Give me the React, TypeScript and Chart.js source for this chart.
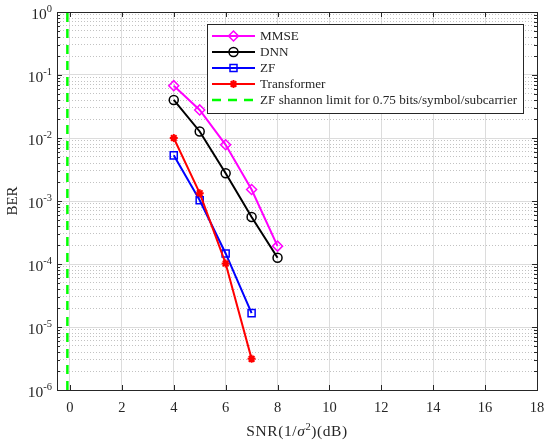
import React, { useEffect, useRef } from 'react';
import { Chart, registerables } from 'chart.js';

Chart.register(...registerables);

// ---- data ----
const snrValues = [4, 5, 6, 7, 8];
const mmseBer = [0.0677, 0.0279, 0.0078, 0.00152, 0.000192];
const dnnBer = [0.0402, 0.0127, 0.00275, 0.000558, 0.000126];
const zfSnr = [4, 5, 6, 7];
const zfBer = [0.0053, 0.00103, 0.000147, 0.0000166];
const transformerSnr = [4, 5, 6, 7];
const transformerBer = [0.01, 0.00133, 0.000102, 0.00000312];
const shannonSnr = [-0.1, -0.1];
const shannonBer = [1e-6, 1];
const xTickValues = [0, 2, 4, 6, 8, 10, 12, 14, 16, 18];
const yDecadeExponents = [-6, -5, -4, -3, -2, -1, 0];
const seriesNames = ['MMSE', 'DNN', 'ZF', 'Transformer', 'ZF shannon limit for 0.75 bits/symbol/subcarrier'];
const seriesColors = ['#ff00ff', '#000000', '#0000ff', '#ff0000', '#00ff00'];
const seriesMarkers = ['rectRot', 'circle', 'rect', 'star', 'none'];
const yTitle = 'BER';

const FONT = '"Liberation Serif", "Times New Roman", serif';
const AX = '#262626';

function isMajor(v: number) {
  const l = Math.log10(v);
  return Math.abs(l - Math.round(l)) < 1e-6;
}

const yTickValues: number[] = [];
yDecadeExponents.forEach((e) => {
  if (e === 0) {
    yTickValues.push(1);
  } else {
    for (let m = 1; m <= 9; m++) yTickValues.push(m * Math.pow(10, e));
  }
});

function toPoints(xs: number[], ys: number[]) {
  return xs.map((x, i) => ({ x, y: ys[i] }));
}

function drawMarker(ctx: CanvasRenderingContext2D, kind: string, x: number, y: number, color: string) {
  ctx.save();
  ctx.strokeStyle = color;
  ctx.lineWidth = 1.5;
  ctx.beginPath();
  if (kind === 'rectRot') {
    const r = 5;
    ctx.moveTo(x, y - r);
    ctx.lineTo(x + r, y);
    ctx.lineTo(x, y + r);
    ctx.lineTo(x - r, y);
    ctx.closePath();
  } else if (kind === 'circle') {
    ctx.arc(x, y, 4.5, 0, Math.PI * 2);
  } else if (kind === 'rect') {
    ctx.rect(x - 3.5, y - 3.5, 7, 7);
  } else if (kind === 'star') {
    ctx.lineWidth = 2;
    const r = 4;
    for (let k = 0; k < 4; k++) {
      const a = (k * Math.PI) / 4;
      ctx.moveTo(x - r * Math.cos(a), y - r * Math.sin(a));
      ctx.lineTo(x + r * Math.cos(a), y + r * Math.sin(a));
    }
  }
  ctx.stroke();
  ctx.restore();
}

const decorPlugin = {
  id: 'decor',
  afterDraw(chart: any) {
    const { ctx, chartArea: ca, scales } = chart;
    const xs = scales.x;
    const ys = scales.y;
    ctx.save();

    // inward ticks
    ctx.strokeStyle = AX;
    ctx.lineWidth = 1;
    ctx.beginPath();
    yTickValues.forEach((v) => {
      const py = Math.round(ys.getPixelForValue(v)) + 0.5;
      const len = isMajor(v) ? 5 : 3;
      ctx.moveTo(ca.left, py);
      ctx.lineTo(ca.left + len, py);
      ctx.moveTo(ca.right, py);
      ctx.lineTo(ca.right - len, py);
    });
    xTickValues.forEach((v) => {
      const px = Math.round(xs.getPixelForValue(v)) + 0.5;
      ctx.moveTo(px, ca.bottom);
      ctx.lineTo(px, ca.bottom - 5);
      ctx.moveTo(px, ca.top);
      ctx.lineTo(px, ca.top + 5);
    });
    ctx.stroke();

    // box
    ctx.strokeRect(Math.round(ca.left) + 0.5, Math.round(ca.top) + 0.5, Math.round(ca.right - ca.left), Math.round(ca.bottom - ca.top));

    // x tick labels
    ctx.fillStyle = AX;
    ctx.font = `14.5px ${FONT}`;
    ctx.textAlign = 'center';
    ctx.textBaseline = 'middle';
    xTickValues.forEach((v) => {
      ctx.fillText(String(v), xs.getPixelForValue(v), ca.bottom + 18);
    });

    // y tick labels 10^e
    ctx.textAlign = 'left';
    yDecadeExponents.forEach((e) => {
      const py = ys.getPixelForValue(Math.pow(10, e));
      ctx.font = `15.5px ${FONT}`;
      const bw = ctx.measureText('10').width;
      ctx.font = `10.5px ${FONT}`;
      const exp = String(e);
      const ew = ctx.measureText(exp).width;
      const x0 = ca.left - 5 - ew - bw;
      ctx.font = `15.5px ${FONT}`;
      ctx.fillText('10', x0, py + 3);
      ctx.font = `10.5px ${FONT}`;
      ctx.fillText(exp, x0 + bw, py - 3);
    });

    // y title
    ctx.save();
    ctx.font = `15px ${FONT}`;
    ctx.textAlign = 'center';
    ctx.textBaseline = 'middle';
    ctx.translate(13, (ca.top + ca.bottom) / 2);
    ctx.rotate(-Math.PI / 2);
    ctx.fillText(yTitle, 0, 0);
    ctx.restore();

    // x title: SNR(1/σ²)(dB)
    const parts = [
      { t: 'SNR(1/', f: `15.5px ${FONT}`, dy: 0 },
      { t: 'σ', f: `italic 15.5px ${FONT}`, dy: 0 },
      { t: '2', f: `10.5px ${FONT}`, dy: -6 },
      { t: ')(dB)', f: `15.5px ${FONT}`, dy: 0 },
    ];
    try {
      (ctx as any).letterSpacing = '0.6px';
    } catch (err) {
      /* ignore */
    }
    let total = 0;
    parts.forEach((p) => {
      ctx.font = p.f;
      total += ctx.measureText(p.t).width;
    });
    let cx = (ca.left + ca.right) / 2 - total / 2;
    const by = 436;
    ctx.textAlign = 'left';
    ctx.textBaseline = 'alphabetic';
    parts.forEach((p) => {
      ctx.font = p.f;
      ctx.fillText(p.t, cx, by + p.dy);
      cx += ctx.measureText(p.t).width;
    });
    try {
      (ctx as any).letterSpacing = '0px';
    } catch (err) {
      /* ignore */
    }

    // legend
    const lx = ca.right - 330;
    const ly = ca.top + 12;
    const lw = 316;
    const lh = 89;
    ctx.fillStyle = '#ffffff';
    ctx.fillRect(lx, ly, lw, lh);
    ctx.strokeStyle = AX;
    ctx.lineWidth = 1;
    ctx.strokeRect(Math.round(lx) + 0.5, Math.round(ly) + 0.5, lw, lh);
    ctx.font = `13.2px ${FONT}`;
    ctx.textBaseline = 'middle';
    ctx.textAlign = 'left';
    seriesNames.forEach((name, i) => {
      const ry = ly + 12 + i * 16;
      ctx.save();
      ctx.strokeStyle = seriesColors[i];
      ctx.lineWidth = i === 4 ? 2.5 : 2;
      ctx.setLineDash(i === 4 ? [9, 7] : []);
      ctx.beginPath();
      ctx.moveTo(lx + 5, ry);
      ctx.lineTo(lx + 48, ry);
      ctx.stroke();
      ctx.restore();
      drawMarker(ctx, seriesMarkers[i], lx + 26.5, ry, seriesColors[i]);
      ctx.fillStyle = AX;
      ctx.fillText(name, lx + 53, ry + 1);
    });

    ctx.restore();
  },
};

export default function App() {
  const ref = useRef<HTMLCanvasElement>(null);
  useEffect(() => {
    document.body.style.margin = '0';
    const lineDs = (i: number, xs: number[], ys: number[], radius: number) => ({
      label: seriesNames[i],
      data: toPoints(xs, ys),
      borderColor: seriesColors[i],
      backgroundColor: seriesColors[i],
      borderWidth: 2,
      pointStyle: seriesMarkers[i] === 'none' ? false : seriesMarkers[i],
      pointRadius: seriesMarkers[i] === 'none' ? 0 : radius,
      pointBorderWidth: seriesMarkers[i] === 'star' ? 2 : 1.5,
      pointBorderColor: seriesColors[i],
      pointBackgroundColor: 'rgba(0,0,0,0)',
      tension: 0,
      fill: false,
      order: -i,
    });
    const chart = new Chart(ref.current as HTMLCanvasElement, {
      type: 'line',
      data: {
        datasets: [
          lineDs(0, snrValues, mmseBer, 5),
          lineDs(1, snrValues, dnnBer, 4.5),
          lineDs(2, zfSnr, zfBer, 5),
          lineDs(3, transformerSnr, transformerBer, 4),
          {
            ...lineDs(4, shannonSnr, shannonBer, 0),
            borderWidth: 2.5,
            borderDash: [9, 7],
          },
        ],
      },
      options: {
        animation: false,
        responsive: false,
        layout: { padding: { top: 12, right: 13, left: 0, bottom: 0 } },
        plugins: { legend: { display: false }, tooltip: { enabled: false } },
        scales: {
          x: {
            type: 'linear',
            min: -0.5,
            max: 18,
            afterBuildTicks: (s: any) => {
              s.ticks = xTickValues.map((v) => ({ value: v }));
            },
            afterFit: (s: any) => {
              s.height = 55;
            },
            ticks: { display: false },
            grid: { color: '#dcdcdc', lineWidth: 1, drawTicks: false },
            border: { display: false },
          },
          y: {
            type: 'logarithmic',
            min: 1e-6,
            max: 1,
            afterBuildTicks: (s: any) => {
              s.ticks = yTickValues.map((v) => ({ value: v, major: isMajor(v) }));
            },
            afterFit: (s: any) => {
              s.width = 57;
            },
            ticks: { display: false },
            grid: {
              color: (c: any) => (c.tick && !isMajor(c.tick.value) ? '#c2c2c2' : '#dcdcdc'),
              lineWidth: 1,
              drawTicks: false,
            },
            border: {
              display: false,
              dash: (c: any) => (c.tick && !isMajor(c.tick.value) ? [1, 2] : []),
            },
          },
        },
      } as any,
      plugins: [decorPlugin],
    });
    return () => chart.destroy();
  }, []);
  return (
    <div style={{ width: 550, height: 445 }}>
      <canvas ref={ref} width={550} height={445} style={{ display: 'block', width: 550, height: 445 }} />
    </div>
  );
}
